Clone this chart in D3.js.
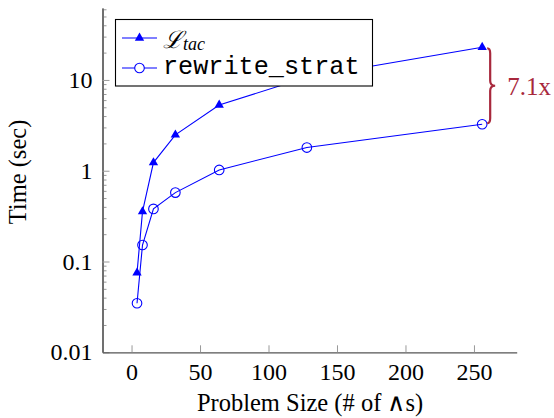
<!DOCTYPE html>
<html>
<head>
<meta charset="utf-8">
<script src="https://cdn.jsdelivr.net/npm/d3@7"></script>
<style>
  body { margin: 0; background: #fff; }
  text { font-family: "Liberation Serif", "Times New Roman", serif; }
</style>
</head>
<body>
<svg id="chart" width="554" height="418"></svg>
<script>
// problem sizes (x) and run times in seconds (log y)
const sizes = [4, 8, 16, 32, 64, 128, 256];
const ltacTimes = [0.075, 0.354, 1.23, 2.48, 5.3, 10.7, 22.9];
const rewriteTimes = [0.0347, 0.152, 0.38, 0.574, 1.02, 1.8, 3.25];
const xTicks = [0, 50, 100, 150, 200, 250];
const yTicks = [0.01, 0.1, 1, 10];
const speedupLabel = '7.1x';

const width = 554, height = 418;
const margin = { top: 8, right: 37.3, bottom: 65.7, left: 102.5 };
const blue = '#0000ff';
const braceColor = '#a8283c';
const serif = '"Liberation Serif", "Times New Roman", serif';

const svg = d3.select('#chart');

const x = d3.scaleLinear()
  .domain([-21.2, 281.2])
  .range([margin.left, width - margin.right]);
const y = d3.scaleLog()
  .domain([0.01, 62])
  .range([height - margin.bottom, margin.top]);

// y axis: minor ticks, then major ticks with labels
var minorY = y.ticks().filter(function(v) { return yTicks.indexOf(v) < 0; });
svg.append('g')
  .attr('transform', 'translate(' + margin.left + ',0)')
  .call(d3.axisLeft(y).tickValues(minorY).tickSize(-4).tickSizeOuter(0).tickFormat(''))
  .call(styleAxis);
svg.append('g')
  .attr('transform', 'translate(' + margin.left + ',0)')
  .call(d3.axisLeft(y).tickValues(yTicks).tickSize(-7).tickSizeOuter(0)
    .tickPadding(10).tickFormat(d3.format('~g')))
  .call(styleAxis);

svg.append('g')
  .attr('transform', 'translate(0,' + (height - margin.bottom) + ')')
  .call(d3.axisBottom(x).tickValues(xTicks).tickSize(-7).tickSizeOuter(0).tickPadding(11))
  .call(styleAxis);

function styleAxis(g) {
  g.attr('font-family', serif).attr('font-size', 24);
  g.select('.domain').attr('stroke', '#555').attr('stroke-width', 1.2);
  g.selectAll('.tick line').attr('stroke', '#999').attr('stroke-width', 1);
  g.selectAll('.tick text').attr('fill', '#000');
}

// axis titles
svg.append('text')
  .attr('x', 310)
  .attr('y', 411)
  .attr('text-anchor', 'middle')
  .style('font-size', '24.5px')
  .text('Problem Size (# of \u2227s)');
svg.append('text')
  .attr('transform', 'translate(26,172) rotate(-90)')
  .attr('text-anchor', 'middle')
  .style('font-size', '24.5px')
  .text('Time (sec)');

// series
const line = d3.line()
  .x(function(d) { return x(d[0]); })
  .y(function(d) { return y(d[1]); });

const ltac = d3.zip(sizes, ltacTimes);
const rewrite = d3.zip(sizes, rewriteTimes);

svg.append('path')
  .datum(ltac)
  .attr('d', line)
  .attr('fill', 'none')
  .attr('stroke', blue)
  .attr('stroke-width', 1.1);
svg.append('path')
  .datum(rewrite)
  .attr('d', line)
  .attr('fill', 'none')
  .attr('stroke', blue)
  .attr('stroke-width', 1.1);

const triangle = d3.symbol().type(d3.symbolTriangle).size(38);
svg.append('g')
  .selectAll('path')
  .data(ltac)
  .enter()
  .append('path')
  .attr('d', triangle)
  .attr('transform', function(d) { return 'translate(' + x(d[0]) + ',' + y(d[1]) + ')'; })
  .attr('fill', blue);

svg.append('g')
  .selectAll('circle')
  .data(rewrite)
  .enter()
  .append('circle')
  .attr('cx', function(d) { return x(d[0]); })
  .attr('cy', function(d) { return y(d[1]); })
  .attr('r', 4.8)
  .attr('fill', 'none')
  .attr('stroke', blue)
  .attr('stroke-width', 1.1);

// brace showing the speedup at the largest size
var lastX = x(sizes[sizes.length - 1]) + 8;
var yTop = y(ltacTimes[ltacTimes.length - 1]) + 1;
var yBot = y(rewriteTimes[rewriteTimes.length - 1]) - 1;
var yMid = (yTop + yBot) / 2;
var brace = d3.path();
brace.moveTo(lastX - 3, yTop);
brace.quadraticCurveTo(lastX, yTop, lastX, yTop + 5);
brace.lineTo(lastX, yMid - 5);
brace.quadraticCurveTo(lastX, yMid, lastX + 5, yMid);
brace.quadraticCurveTo(lastX, yMid, lastX, yMid + 5);
brace.lineTo(lastX, yBot - 5);
brace.quadraticCurveTo(lastX, yBot, lastX - 3, yBot);
svg.append('path')
  .attr('d', brace.toString())
  .attr('fill', 'none')
  .attr('stroke', braceColor)
  .attr('stroke-width', 2.2);
svg.append('text')
  .attr('x', lastX + 17)
  .attr('y', yMid)
  .attr('dy', '0.35em')
  .attr('fill', braceColor)
  .style('font-size', '25px')
  .text(speedupLabel);

// legend
var legend = svg.append('g');
legend.append('rect')
  .attr('x', 115.5).attr('y', 19.5)
  .attr('width', 257).attr('height', 66.5)
  .attr('fill', '#fff')
  .attr('stroke', '#000')
  .attr('stroke-width', 1.1);

var rows = [38, 68];
rows.forEach(function(ry) {
  legend.append('line')
    .attr('x1', 122).attr('x2', 157)
    .attr('y1', ry).attr('y2', ry)
    .attr('stroke', blue).attr('stroke-width', 1.1);
});
legend.append('path')
  .attr('d', triangle)
  .attr('transform', 'translate(139.5,' + rows[0] + ')')
  .attr('fill', blue);
legend.append('circle')
  .attr('cx', 139.5).attr('cy', rows[1]).attr('r', 4.8)
  .attr('fill', '#fff').attr('stroke', blue).attr('stroke-width', 1.1);

var l1 = legend.append('text')
  .attr('x', 163).attr('y', 48);
l1.append('tspan')
  .style('font-family', '"DejaVu Serif", serif')
  .style('font-size', '24px')
  .style('font-style', 'italic')
  .text('\u2112');
l1.append('tspan')
  .attr('dy', 2)
  .style('font-size', '18px')
  .style('font-style', 'italic')
  .text('tac');

legend.append('text')
  .attr('x', 163).attr('y', 74)
  .style('font-family', '"Liberation Mono", "Courier New", monospace')
  .style('font-size', '25.2px')
  .text('rewrite_strat');
</script>
</body>
</html>
